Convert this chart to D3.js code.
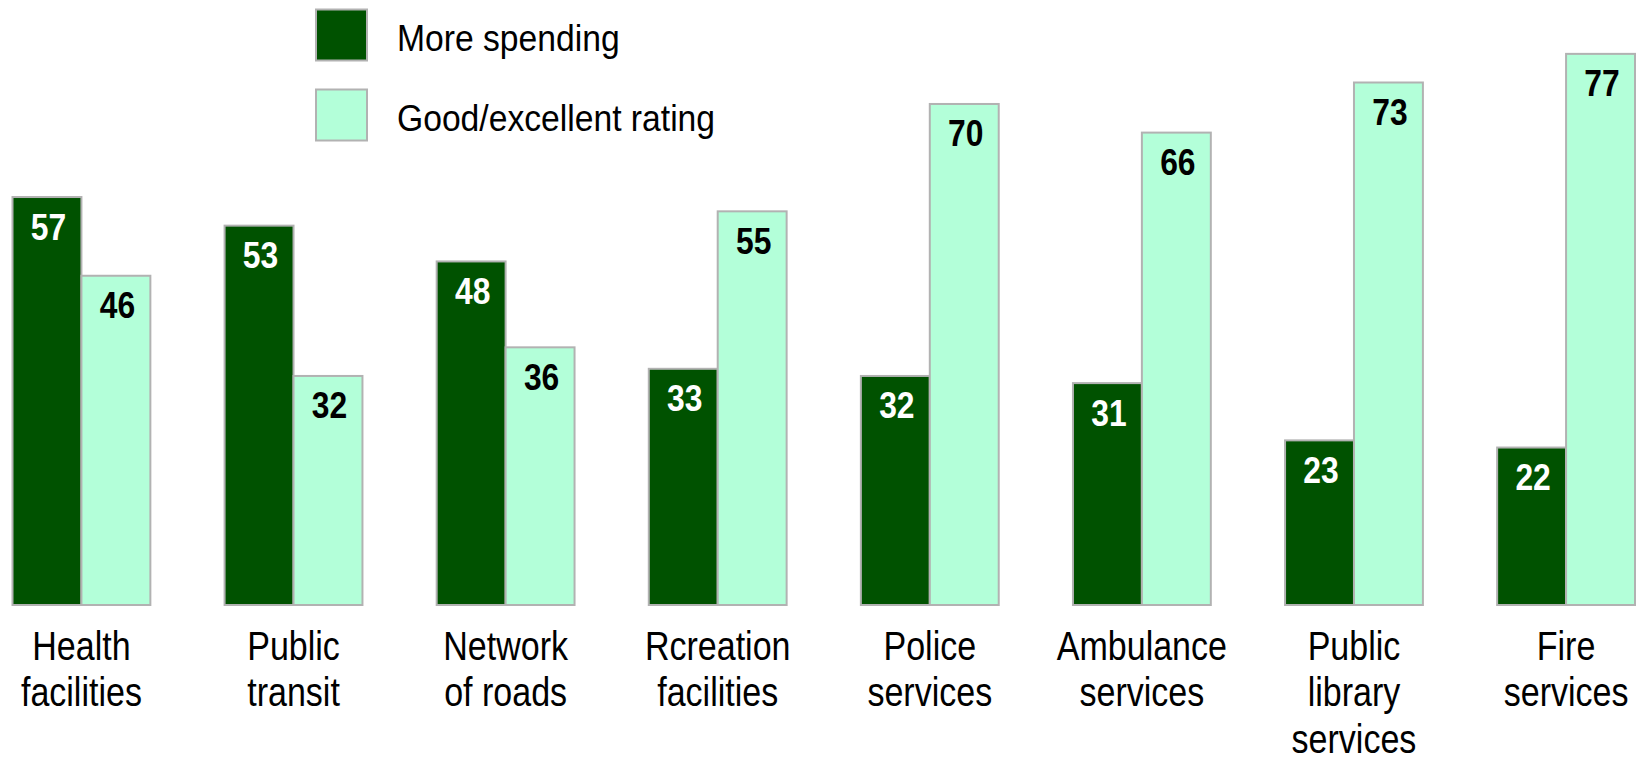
<!DOCTYPE html>
<html>
<head>
<meta charset="utf-8">
<script src="https://cdn.jsdelivr.net/npm/d3@7"></script>
<style>
  html, body { margin: 0; padding: 0; background: #ffffff; }
  svg { display: block; }
</style>
</head>
<body>
<svg id="chart" width="1642" height="761"></svg>
<script>
// Services: share wanting more spending vs. share rating the service good/excellent (%)
const categories = [
  ["Health", "facilities"],
  ["Public", "transit"],
  ["Network", "of roads"],
  ["Rcreation", "facilities"],
  ["Police", "services"],
  ["Ambulance", "services"],
  ["Public", "library", "services"],
  ["Fire", "services"]
];
const seriesNames = ["More spending", "Good/excellent rating"];
const moreSpending = [57, 53, 48, 33, 32, 31, 23, 22];
const goodRating   = [46, 32, 36, 55, 70, 66, 73, 77];

const colors = ["#005200", "#b3ffd9"];
const labelColors = ["#ffffff", "#000000"];
const strokeColor = "#b2b2b2";
const fontFamily = "'Liberation Sans', Arial, sans-serif";

const svg = d3.select("#chart");

const keys = categories.map(c => c.join(" "));
const rows = keys.map((k, i) => ({ key: k, lines: categories[i], values: [moreSpending[i], goodRating[i]] }));

const x0 = d3.scaleBand().domain(keys).range([12.5, 1635]).paddingInner(0.35).paddingOuter(0);
const x1 = d3.scaleBand().domain([0, 1]).range([0, x0.bandwidth()]).padding(0);
const y = d3.scaleLinear().domain([0, 80]).range([605, 32.4]);

const groups = svg.append("g").selectAll("g")
  .data(rows).join("g")
  .attr("transform", d => `translate(${x0(d.key)},0)`);

groups.selectAll("rect")
  .data(d => d.values.map((v, s) => ({ v, s })))
  .join("rect")
  .attr("x", d => x1(d.s))
  .attr("y", d => y(d.v))
  .attr("width", x1.bandwidth())
  .attr("height", d => y(0) - y(d.v))
  .attr("fill", d => colors[d.s])
  .attr("stroke", strokeColor)
  .attr("stroke-width", 2);

// value labels inside the top of each bar (condensed bold)
groups.selectAll("text.val")
  .data(d => d.values.map((v, s) => ({ v, s })))
  .join("text")
  .attr("class", "val")
  .attr("transform", d => `translate(${x1(d.s) + x1.bandwidth() / 2 + 1.5},${y(d.v) + 42.5}) scale(0.86,1)`)
  .attr("text-anchor", "middle")
  .attr("font-family", fontFamily)
  .attr("font-weight", "bold")
  .attr("font-size", 37)
  .attr("fill", d => labelColors[d.s])
  .text(d => d.v);

// category labels under the bars (condensed regular)
const catText = groups.append("text")
  .attr("transform", `translate(${x0.bandwidth() / 2},0) scale(0.83,1)`)
  .attr("text-anchor", "middle")
  .attr("font-family", fontFamily)
  .attr("font-size", 41)
  .attr("fill", "#000000");
catText.selectAll("tspan")
  .data(d => d.lines)
  .join("tspan")
  .attr("x", 0)
  .attr("y", (d, i) => 660 + i * 46.5)
  .text(d => d);

// legend
const legend = svg.append("g").selectAll("g")
  .data(seriesNames).join("g")
  .attr("transform", (d, i) => `translate(316,${9.5 + i * 80})`);
legend.append("rect")
  .attr("width", 51)
  .attr("height", 51)
  .attr("fill", (d, i) => colors[i])
  .attr("stroke", strokeColor)
  .attr("stroke-width", 2);
legend.append("text")
  .attr("transform", "translate(81,41) scale(0.91,1)")
  .attr("font-family", fontFamily)
  .attr("font-size", 37)
  .attr("fill", "#000000")
  .text(d => d);
</script>
</body>
</html>
